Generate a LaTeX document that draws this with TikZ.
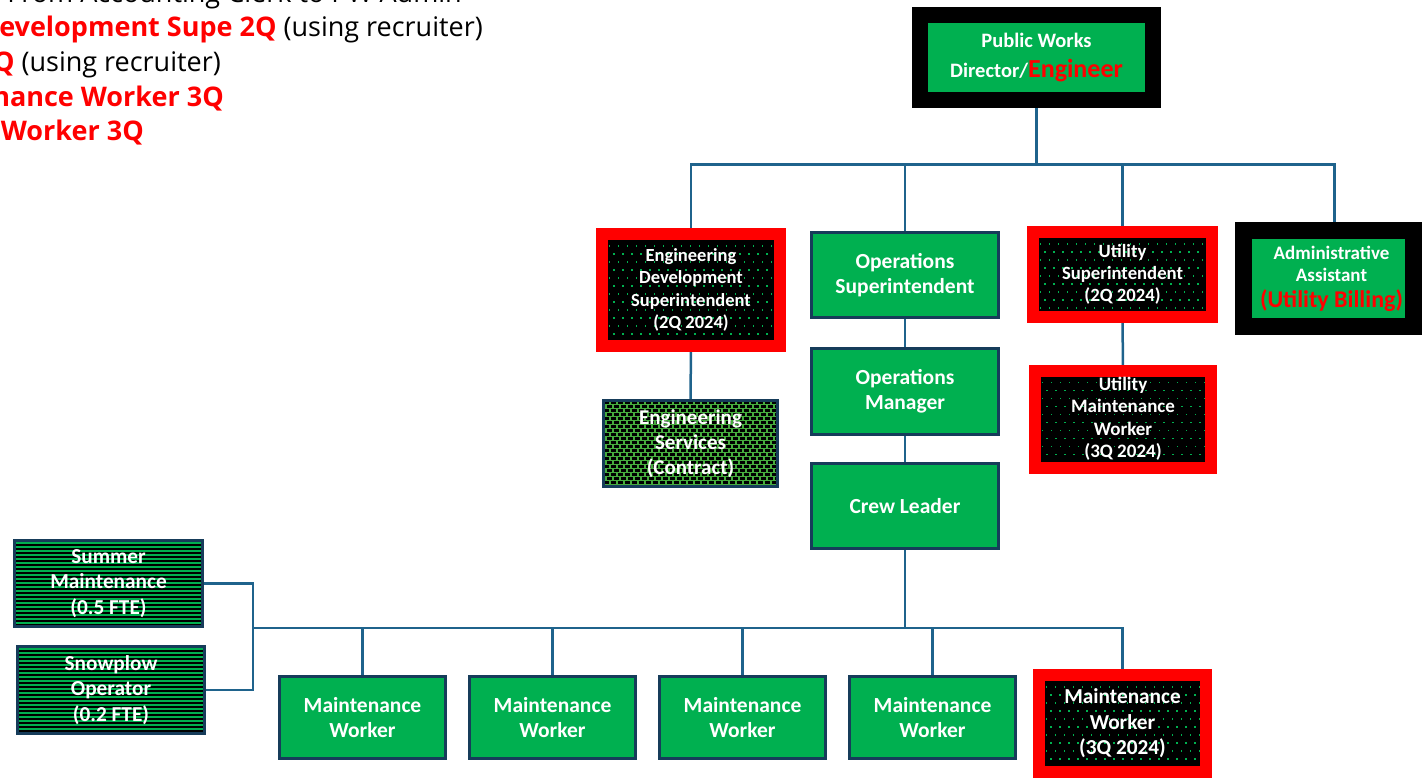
\documentclass[tikz,border=0pt]{standalone}
\usepackage{fontspec}
\setmainfont{Carlito}
\newfontfamily\notefont{Open Sans}
\usetikzlibrary{calc,backgrounds}

\definecolor{orggreen}{RGB}{0,176,80}
\definecolor{boxnavy}{RGB}{22,60,90}
\definecolor{linkblue}{RGB}{31,99,140}
\definecolor{hirered}{RGB}{255,0,0}
\definecolor{svcgreen}{RGB}{70,172,62}

\tikzset{
  box/.style={align=center, inner sep=0pt, outer sep=0pt, text=white,
    font=\bfseries\fontsize{21.5}{25.5}\selectfont},
  posbox/.style={box, draw=boxnavy, line width=3, fill=orggreen},
  leadbox/.style={box, draw=black, line width=16, fill=orggreen},
  % open positions: red frame, black field with a green dot grid
  openbox/.style={box, draw=hirered, line width=12, fill=black,
    path picture={
      \coordinate (pp) at (path picture bounding box.north west);
      \foreach \j in {0,...,14} \foreach \i in {0,...,20}
        \fill[orggreen] ($(pp)+({\i*9+mod(\j,2)*4.5+2},{\j*8+3})$) rectangle +(1.6,1.6);
    }},
  % part-time seasonal positions: horizontal stripes
  stripebox/.style={box, draw=boxnavy, line width=3, fill=black,
    path picture={
      \coordinate (pp) at (path picture bounding box.north west);
      \foreach \j in {0,...,24}
        \fill[orggreen] ($(pp)+(0,{\j*4+1})$) rectangle +(200,2);
    }},
  % contracted services: green field with staggered black dashes
  contractbox/.style={box, draw=boxnavy, line width=3, fill=svcgreen,
    path picture={
      \coordinate (pp) at (path picture bounding box.north west);
      \foreach \j in {0,...,23} {
        \pgfmathsetmacro\ph{mod(\j,2)*3.5}
        \draw[black, line width=2.1, dash pattern=on 5 off 2, dash phase=\ph]
          ($(pp)+(0,{\j*4+2})$) -- +(190,0);
      }
    }},
  link/.style={draw=linkblue, line width=2.5},
  note/.style={anchor=base east, inner sep=0pt, text=black,
    font=\notefont\fontsize{27}{34}\selectfont}
}

\begin{document}
\begin{tikzpicture}[x=1pt,y=-1pt]
\useasboundingbox (0,0) rectangle (1422,778);
\clip (0,0) rectangle (1422,778);

% staffing notes
\node[note] (n1) at (462,3) {From Accounting Clerk to PW Admin};
\node[note] (n2) at (483,37) {{\bfseries\color{hirered}Development Supe 2Q} (using recruiter)};
\node[note] (n3) at (221,72) {{\bfseries\color{hirered}2Q} (using recruiter)};
\node[note] (n4) at (224,107) {{\bfseries\color{hirered}Maintenance Worker 3Q}};
\node[note] (n5) at (144,141) {{\bfseries\color{hirered}Worker 3Q}};

% director
\node[leadbox, minimum width=233, minimum height=85, font=\bfseries\fontsize{20.5}{30}\selectfont]
  (dir) at (1036.5,57.5)
  {Public Works\\Director/{\color{hirered}\fontsize{26}{30}\selectfont Engineer}};

% second tier
\node[openbox, minimum width=178, minimum height=112, font=\bfseries\fontsize{18.5}{22.5}\selectfont]
  (engdev) at (691,290) {Engineering\\Development\\Superintendent\\(2Q 2024)};
\node[posbox, minimum width=187, minimum height=85] (opssup) at (905,275)
  {Operations\\Superintendent};
\node[openbox, minimum width=179, minimum height=85, font=\bfseries\fontsize{18.7}{22}\selectfont]
  (utilsup) at (1122.5,274.5) {Utility\\Superintendent\\(2Q 2024)};
\node[leadbox, line width=17, minimum width=170, minimum height=95, font=\bfseries\fontsize{19}{22}\selectfont]
  (admin) at (1328.5,278.5)
  {\hspace*{6pt}Administrative\\\hspace*{6pt}Assistant\\[4pt]\hspace*{6pt}{\color{hirered}\fontsize{24}{22}\selectfont(Utility Billing)}};

% engineering branch
\node[contractbox, minimum width=174, minimum height=86, font=\bfseries\fontsize{21}{25}\selectfont]
  (engsvc) at (690.5,443.5) {Engineering\\Services\\(Contract)};

% operations branch
\node[posbox, minimum width=187, minimum height=86] (opsman) at (905,391.5)
  {Operations\\Manager};
\node[posbox, minimum width=187, minimum height=85] (crew) at (905,506) {Crew Leader};

% utility branch
\node[openbox, minimum width=176, minimum height=97, font=\bfseries\fontsize{19}{22.5}\selectfont]
  (utilmw) at (1123,419) {Utility\\Maintenance\\Worker\\(3Q 2024)};

% crew
\node[posbox, minimum width=166, minimum height=82] (mw1) at (362.5,717.5) {Maintenance\\Worker};
\node[posbox, minimum width=166, minimum height=82] (mw2) at (552.5,717.5) {Maintenance\\Worker};
\node[posbox, minimum width=166, minimum height=82] (mw3) at (742.5,717.5) {Maintenance\\Worker};
\node[posbox, minimum width=166, minimum height=82] (mw4) at (932.5,717.5) {Maintenance\\Worker};
\node[openbox, minimum width=167, minimum height=97, font=\bfseries\fontsize{21.3}{25.5}\selectfont]
  (mw5) at (1122.5,723.5) {Maintenance\\Worker\\(3Q 2024)};

% seasonal help
\node[stripebox, minimum width=188, minimum height=86, font=\bfseries\fontsize{21.3}{25.5}\selectfont]
  (summer) at (108.5,583.5) {Summer\\Maintenance\\(0.5 FTE)};
\node[stripebox, minimum width=187, minimum height=87, font=\bfseries\fontsize{21.3}{25.5}\selectfont]
  (snow) at (111,690) {Snowplow\\Operator\\(0.2 FTE)};

% reporting lines
\begin{scope}[on background layer]
  \coordinate (topbus) at ($(dir.south)+(0,64.5)$);
  \draw[link] (dir.south) -- (topbus);
  \foreach \n in {engdev,opssup,utilsup}
    \draw[link] (\n.north) |- (topbus);
  \draw[link] ($(admin.north)+(6,0)$) |- (topbus);
  \draw[link] (engdev.south) -- (engsvc.north);
  \draw[link] (opssup.south) -- (opsman.north);
  \draw[link] (opsman.south) -- (crew.north);
  \draw[link] (utilsup.south) -- (utilmw.north);
  \coordinate (crewbus) at ($(crew.south)+(0,79.5)$);
  \draw[link] (crew.south) -- (crewbus);
  \foreach \n in {mw1,mw2,mw3,mw4,mw5}
    \draw[link] (\n.north) |- (crewbus);
  \coordinate (sidebus) at (253,628);
  \draw[link] (crewbus) -- (sidebus);
  \draw[link] (summer.east) -| (sidebus);
  \draw[link] (snow.east) -| (sidebus);
\end{scope}
\end{tikzpicture}
\end{document}
